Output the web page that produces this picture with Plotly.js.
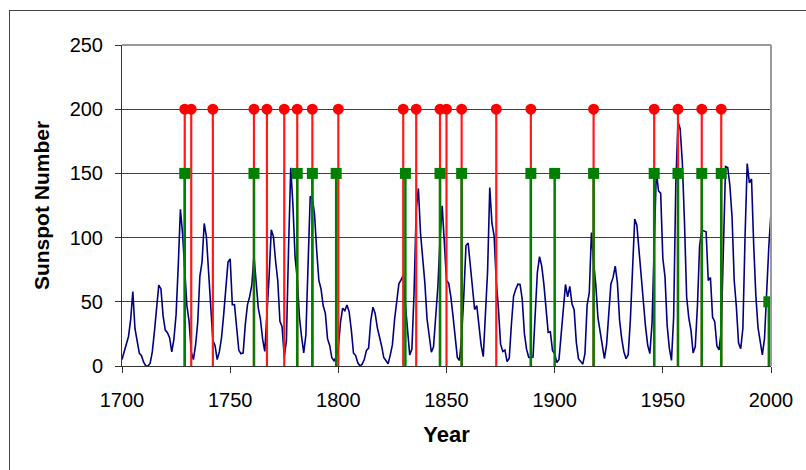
<!DOCTYPE html>
<html>
<head>
<meta charset="utf-8">
<script src="https://cdn.plot.ly/plotly-3.0.1.min.js"></script>
<style>
  html, body { margin: 0; padding: 0; background: #fff; overflow: hidden; }
  #wrap { position: relative; width: 806px; height: 470px; }
  #chart { position: absolute; left: 0; top: 0; width: 806px; height: 470px; }
  #frame { position: absolute; left: 9px; top: 10px; width: 900px; height: 500px;
           border-top: 1px solid #444; border-left: 1px solid #444; pointer-events: none; }
</style>
</head>
<body>
<div id="wrap">
  <div id="chart"></div>
  <div id="frame"></div>
</div>
<script>
// Yearly sunspot numbers 1700-2000
const startYear = 1700;
const sunspots = [
  5.0, 11.0, 16.0, 23.0, 36.0, 58.0, 29.0, 20.0, 10.0, 8.0,
  3.0, 0.0, 0.0, 2.0, 11.0, 27.0, 47.0, 63.0, 60.0, 39.0,
  28.0, 26.0, 22.0, 11.0, 21.0, 40.0, 78.0, 122.0, 103.0, 73.0,
  47.0, 35.0, 11.0, 5.0, 16.0, 34.0, 70.0, 81.0, 111.0, 101.0,
  73.0, 40.0, 20.0, 16.0, 5.0, 11.0, 22.0, 40.0, 60.0, 80.9,
  83.4, 47.7, 47.8, 30.7, 12.2, 9.6, 10.2, 32.4, 47.6, 54.0,
  62.9, 85.9, 61.2, 45.1, 36.4, 20.9, 11.4, 37.8, 69.8, 106.1,
  100.8, 81.6, 66.5, 34.8, 30.6, 7.0, 19.8, 92.5, 154.4, 125.9,
  84.8, 68.1, 38.5, 22.8, 10.2, 24.1, 82.9, 132.0, 130.9, 118.1,
  89.9, 66.6, 60.0, 46.9, 41.0, 21.3, 16.0, 6.4, 4.1, 6.8,
  14.5, 34.0, 45.0, 43.1, 47.5, 42.2, 28.1, 10.1, 8.1, 2.5,
  0.0, 1.4, 5.0, 12.2, 13.9, 35.4, 45.8, 41.1, 30.1, 23.9,
  15.6, 6.6, 4.0, 1.8, 8.5, 16.6, 36.3, 49.6, 64.2, 67.0,
  70.9, 47.8, 27.5, 8.5, 13.2, 56.9, 121.5, 138.3, 103.2, 85.7,
  64.6, 36.7, 24.2, 10.7, 15.0, 40.1, 61.5, 98.5, 124.7, 96.3,
  66.6, 64.5, 54.1, 39.0, 20.6, 6.7, 4.3, 22.7, 54.8, 93.8,
  95.8, 77.2, 59.1, 44.0, 47.0, 30.5, 16.3, 7.3, 37.6, 74.0,
  139.0, 111.2, 101.6, 66.2, 44.7, 17.0, 11.3, 12.4, 3.4, 6.0,
  32.3, 54.3, 59.7, 63.7, 63.5, 52.2, 25.4, 13.1, 6.8, 6.3,
  7.1, 35.6, 73.0, 85.1, 78.0, 64.0, 41.8, 26.2, 26.7, 12.1,
  9.5, 2.7, 5.0, 24.4, 42.0, 63.5, 53.8, 62.0, 48.5, 43.9,
  18.6, 5.7, 3.6, 1.4, 9.6, 47.4, 57.1, 103.9, 80.6, 63.6,
  37.6, 26.1, 14.2, 5.8, 16.7, 44.3, 63.9, 69.0, 77.8, 64.9,
  35.7, 21.2, 11.1, 5.7, 8.7, 36.1, 79.7, 114.4, 109.6, 88.8,
  67.8, 47.5, 30.6, 16.3, 9.6, 33.2, 92.6, 151.6, 136.3, 134.7,
  83.9, 69.4, 31.5, 13.9, 4.4, 38.0, 141.7, 190.2, 184.8, 159.0,
  112.3, 53.9, 37.5, 27.9, 10.2, 15.1, 47.0, 93.8, 105.9, 105.5,
  104.5, 66.6, 68.9, 38.0, 34.5, 15.5, 12.6, 27.5, 92.5, 155.4,
  154.6, 140.4, 115.9, 66.6, 45.9, 17.9, 13.4, 29.4, 100.2, 157.6,
  142.6, 145.7, 94.3, 54.6, 29.9, 17.5, 8.6, 21.5, 64.3, 93.3,
  119.6
];
const years = sunspots.map((_, i) => startYear + i);

// Red event markers (height 200)
const redYears = [1729, 1732, 1742, 1761, 1767, 1775, 1781, 1788, 1800, 1830, 1836,
                  1847, 1850, 1857, 1873, 1889, 1918, 1946, 1957, 1968, 1977];
const redValues = redYears.map(() => 200);

// Green event markers (height 150, last one 50)
const greenYears = [1729, 1761, 1781, 1788, 1799, 1831, 1847, 1857, 1889, 1900,
                    1918, 1946, 1957, 1968, 1977, 1999];
const greenValues = [150, 150, 150, 150, 150, 150, 150, 150, 150, 150,
                     150, 150, 150, 150, 150, 50];

function stems(xs, ys) {
  const sx = [], sy = [];
  xs.forEach((x, i) => { sx.push(x, x, null); sy.push(0, ys[i], null); });
  return { x: sx, y: sy };
}

const redStem = stems(redYears, redValues);
const greenStem = stems(greenYears, greenValues);

const traces = [
  { x: years, y: sunspots, type: 'scatter', mode: 'lines',
    line: { color: '#000080', width: 1.6 }, hoverinfo: 'x+y' },
  { x: redStem.x, y: redStem.y, type: 'scatter', mode: 'lines',
    line: { color: '#ff1a1a', width: 2.2 }, connectgaps: false, hoverinfo: 'skip' },
  { x: redYears, y: redValues, type: 'scatter', mode: 'markers',
    marker: { color: '#ff0000', size: 11, symbol: 'circle' } },
  { x: greenStem.x, y: greenStem.y, type: 'scatter', mode: 'lines',
    line: { color: '#008000', width: 2.5 }, connectgaps: false, hoverinfo: 'skip' },
  { x: greenYears, y: greenValues, type: 'scatter', mode: 'markers',
    marker: { color: '#008000', size: 11, symbol: 'square' } }
];

const font = 'Liberation Sans, Arial, sans-serif';

const layout = {
  width: 806, height: 470,
  margin: { l: 122, r: 35, t: 45, b: 104, pad: 0 },
  paper_bgcolor: '#ffffff', plot_bgcolor: '#ffffff',
  showlegend: false,
  font: { family: font, color: '#000' },
  xaxis: {
    range: [1700, 2000], tickmode: 'linear', tick0: 1700, dtick: 50,
    showgrid: false, zeroline: false,
    showline: true, linecolor: '#333', linewidth: 1,
    ticks: 'outside', ticklen: 6, tickcolor: '#333',
    ticklabelstandoff: 10,
    tickfont: { family: font, size: 20, color: '#000' },
    title: { text: 'Year', font: { family: font, size: 22, color: '#000', weight: 'bold' }, standoff: 16 }
  },
  yaxis: {
    range: [0, 250], tickmode: 'linear', tick0: 0, dtick: 50,
    showgrid: true, gridcolor: '#404040', gridwidth: 1, zeroline: false,
    showline: true, linecolor: '#333', linewidth: 1,
    ticks: 'outside', ticklen: 6, tickcolor: '#333',
    ticklabelstandoff: 8,
    tickfont: { family: font, size: 20, color: '#000' },
    title: { text: 'Sunspot Number', font: { family: font, size: 21, color: '#000', weight: 'bold' }, standoff: 14 }
  },
  shapes: [
    { type: 'line', xref: 'paper', yref: 'paper', x0: 0, x1: 1, y0: 1, y1: 1,
      line: { color: '#999999', width: 2 }, layer: 'above' },
    { type: 'line', xref: 'paper', yref: 'paper', x0: 1, x1: 1, y0: 0, y1: 1,
      line: { color: '#999999', width: 2 }, layer: 'above' }
  ]
};

Plotly.newPlot('chart', traces, layout, { displayModeBar: false, staticPlot: true });
</script>
</body>
</html>
